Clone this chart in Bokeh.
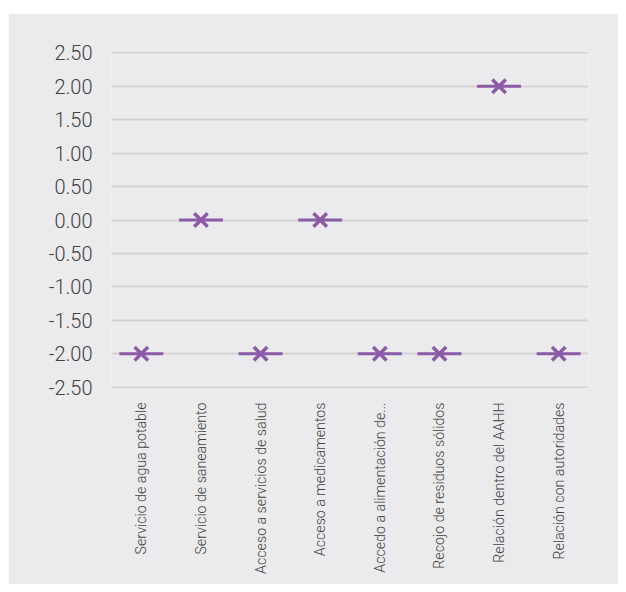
from bokeh.plotting import figure
from bokeh.models import FactorRange, Range1d, FixedTicker, NumeralTickFormatter, Spacer, ColumnDataSource
from bokeh.layouts import column, row
from bokeh.embed import file_html
from bokeh.resources import INLINE
import math

categories = [
    "Servicio de agua potable",
    "Servicio de saneamiento",
    "Acceso a servicios de salud",
    "Acceso a medicamentos",
    "Accedo a alimentación de...",
    "Recojo de residuos sólidos",
    "Relación dentro del AAHH",
    "Relación con autoridades",
]
values = [-2, 0, -2, 0, -2, -2, 2, -2]
y_ticks = [-2.5, -2.0, -1.5, -1.0, -0.5, 0.0, 0.5, 1.0, 1.5, 2.0, 2.5]

BG = "#ebebed"
PURPLE = "#8c5ba8"
TXT = "#404040"
FONT = "Roboto Light, Roboto"

src = ColumnDataSource(data=dict(cat=categories, val=values))

p = figure(
    x_range=FactorRange(*categories, range_padding=0),
    y_range=Range1d(-2.52, 2.52),
    frame_width=477, frame_height=337,
    min_border_left=103, min_border_right=30, min_border_top=38, min_border_bottom=196,
    output_backend="svg", toolbar_location=None,
    background_fill_color=BG, border_fill_color=BG,
)
p.outline_line_color = None

p.scatter(x="cat", y="val", source=src, marker="dash", size=44, line_color=PURPLE, line_width=3)
p.scatter(x="cat", y="val", source=src, marker="x", size=19, line_color=PURPLE, line_width=3.5)

p.xgrid.grid_line_color = None
p.ygrid.grid_line_color = "#d3d3d5"
p.ygrid.grid_line_width = 2
p.yaxis.ticker = FixedTicker(ticks=y_ticks)
p.yaxis.formatter = NumeralTickFormatter(format="0.00")

for ax in (p.xaxis[0], p.yaxis[0]):
    ax.axis_line_color = None
    ax.major_tick_line_color = None
    ax.minor_tick_line_color = None
    ax.major_label_text_font = FONT
    ax.major_label_text_color = TXT

p.yaxis.major_label_text_font_size = "20px"
p.yaxis.major_label_standoff = 13
p.xaxis.major_label_text_font_size = "14.2px"
p.xaxis.major_label_orientation = math.pi / 2
p.xaxis.major_label_standoff = 8

layout = row(Spacer(width=8, height=10), column(Spacer(width=610, height=13), p, spacing=0), spacing=0)

open("out.html", "w").write(file_html(layout, INLINE))
